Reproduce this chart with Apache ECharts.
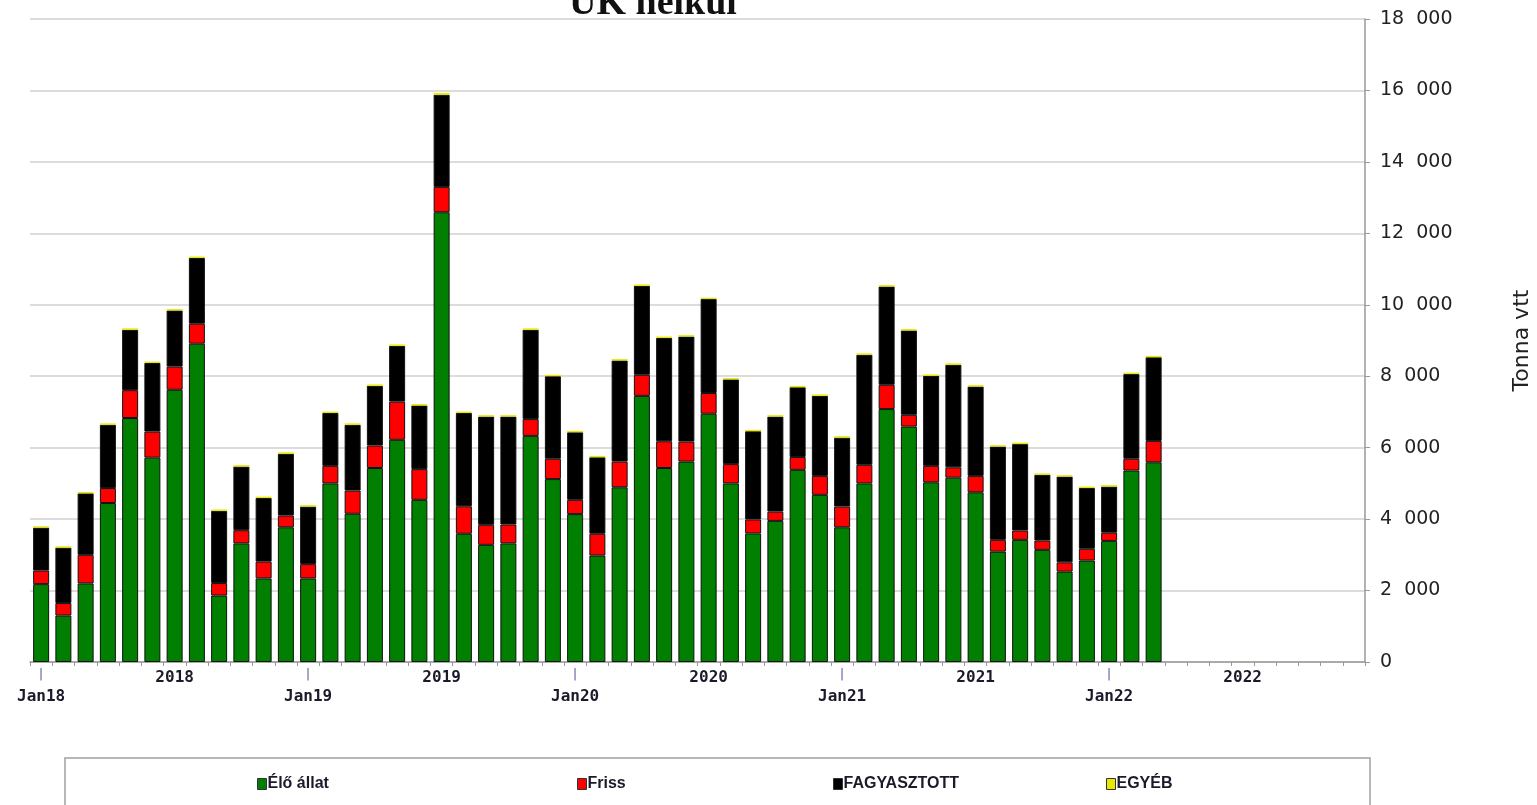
<!DOCTYPE html>
<html>
<head>
<meta charset="utf-8">
<title>UK nélkül</title>
<script src="https://cdn.jsdelivr.net/npm/echarts@6/dist/echarts.min.js"></script>
<style>
  html, body { margin: 0; padding: 0; background: #fff; }
  #chart { width: 1537px; height: 805px; }
</style>
</head>
<body>
<div id="chart"></div>
<script>
// havi kategóriák, 2018 jan - 2022 dec
var honapok = [
  'Jan18','Feb18','Mar18','Apr18','May18','Jun18','Jul18','Aug18','Sep18','Oct18','Nov18','Dec18',
  'Jan19','Feb19','Mar19','Apr19','May19','Jun19','Jul19','Aug19','Sep19','Oct19','Nov19','Dec19',
  'Jan20','Feb20','Mar20','Apr20','May20','Jun20','Jul20','Aug20','Sep20','Oct20','Nov20','Dec20',
  'Jan21','Feb21','Mar21','Apr21','May21','Jun21','Jul21','Aug21','Sep21','Oct21','Nov21','Dec21',
  'Jan22','Feb22','Mar22','Apr22','May22','Jun22','Jul22','Aug22','Sep22','Oct22','Nov22','Dec22'
];
var evek = ['2018', '2019', '2020', '2021', '2022'];

// tonna
var eloAllat = [2180, 1300, 2200, 4450, 6830, 5720, 7620, 8910, 1860, 3320, 2340, 3770,
  2340, 5000, 4150, 5430, 6220, 4540, 12590, 3590, 3280, 3320, 6330, 5120,
  4140, 2980, 4890, 7450, 5430, 5610, 6950, 5000, 3600, 3950, 5380, 4680,
  3770, 5000, 7080, 6590, 5030, 5160, 4750, 3090, 3420, 3140, 2530, 2840,
  3390, 5360, 5590];
var friss = [380, 350, 800, 420, 780, 730, 650, 560, 350, 370, 470, 330,
  400, 490, 650, 630, 1070, 860, 710, 770, 560, 530, 470, 570,
  400, 610, 720, 590, 750, 560, 580, 540, 390, 260, 360, 530,
  580, 520, 680, 330, 460, 290, 460, 330, 260, 260, 260, 330,
  230, 330, 600];
var fagyasztott = [1200, 1550, 1720, 1770, 1690, 1920, 1570, 1840, 2020, 1780, 1780, 1730,
  1610, 1480, 1840, 1670, 1560, 1780, 2580, 2610, 3030, 3020, 2500, 2310,
  1890, 2140, 2830, 2490, 2890, 2940, 2630, 2370, 2470, 2660, 1950, 2240,
  1930, 3080, 2750, 2360, 2520, 2870, 2500, 2610, 2420, 1840, 2400, 1700,
  1290, 2370, 2340];
var egyeb = [40, 40, 40, 40, 40, 40, 40, 40, 40, 40, 40, 40,
  40, 40, 40, 40, 40, 40, 50, 40, 40, 40, 40, 40,
  40, 40, 40, 40, 40, 40, 40, 40, 40, 40, 40, 40,
  40, 40, 40, 40, 40, 40, 40, 40, 40, 40, 40, 40,
  40, 40, 40];
var yTicks = [0, 2000, 4000, 6000, 8000, 10000, 12000, 14000, 16000, 18000];

var myChart = echarts.init(document.getElementById('chart'));

function oszlop(name, data, color, border) {
  return {
    name: name,
    type: 'bar',
    stack: 'ossz',
    barWidth: 16,
    data: data,
    itemStyle: { color: color, borderColor: '#111', borderWidth: border }
  };
}

var option = {
  backgroundColor: '#fff',
  animation: false,
  title: {
    text: 'UK nélkül',
    left: 564,
    top: -20,
    textStyle: { fontFamily: 'Liberation Serif', fontWeight: 'bold', fontSize: 38, color: '#111' }
  },
  graphic: [{
    type: 'rect',
    shape: { x: 65, y: 758, width: 1305, height: 70 },
    style: { fill: '#fff', stroke: '#a0a0a0', lineWidth: 1.5 },
    z: 0
  }],
  legend: [
    { data: ['Élő állat'], left: 257, top: 776 },
    { data: ['Friss'], left: 577, top: 776 },
    { data: ['FAGYASZTOTT'], left: 833, top: 776 },
    { data: ['EGYÉB'], left: 1106, top: 776 }
  ].map(function (l) {
    l.itemWidth = 9;
    l.itemHeight = 11;
    l.itemGap = 0;
    l.icon = 'rect';
    l.padding = 0;
    l.textStyle = { fontFamily: 'Liberation Sans', fontWeight: 'bold', fontSize: 16, color: '#1a1a2a', padding: [0, 0, 0, -4] };
    l.itemStyle = { borderColor: '#333', borderWidth: 1 };
    return l;
  }),
  grid: { left: 30, right: 172, top: 19, bottom: 143, outerBoundsMode: 'none' },
  xAxis: {
    type: 'category',
    data: honapok,
    axisLine: { lineStyle: { color: '#999', width: 1.5 } },
    axisTick: { show: true, interval: 0, length: 4, lineStyle: { color: '#999' } },
    axisLabel: {
      interval: 0,
      margin: 4,
      formatter: function (v, i) {
        if (i % 12 === 0) return '{jel|\u007c}\n{jan|' + v + '}';
        if (i % 12 === 6) return '{ev|' + evek[Math.floor(i / 12)] + '}';
        return '';
      },
      rich: {
        jel: { fontFamily: 'DejaVu Sans', fontSize: 12, color: '#50509a', height: 18, lineHeight: 18 },
        jan: { fontFamily: 'DejaVu Sans Mono', fontWeight: 'bold', fontSize: 16, color: '#1a1a2a', height: 26, lineHeight: 26 },
        ev: { fontFamily: 'DejaVu Sans Mono', fontWeight: 'bold', fontSize: 16, color: '#1a1a2a', height: 18, lineHeight: 18, padding: [6, 0, 0, 0] }
      }
    }
  },
  yAxis: {
    type: 'value',
    position: 'right',
    min: yTicks[0],
    max: yTicks[yTicks.length - 1],
    interval: 2000,
    name: 'Tonna vtt',
    nameLocation: 'middle',
    nameRotate: 90,
    nameGap: 146,
    nameTextStyle: { fontFamily: 'DejaVu Sans', fontSize: 22, color: '#222' },
    axisLine: { show: true, lineStyle: { color: '#999', width: 1.5 } },
    axisTick: { show: true, length: 5, lineStyle: { color: '#999' } },
    axisLabel: {
      margin: 15,
      fontFamily: 'DejaVu Sans',
      fontSize: 19,
      color: '#222',
      formatter: function (v) {
        var s = String(v);
        return s.length > 3 ? s.slice(0, -3) + '\u2007' + s.slice(-3) : s;
      }
    },
    splitLine: { lineStyle: { color: '#dcdcdc', width: 2 } }
  },
  series: [
    oszlop('Élő állat', eloAllat, '#007f00', 1),
    oszlop('Friss', friss, '#ff0000', 1),
    oszlop('FAGYASZTOTT', fagyasztott, '#000000', 1),
    oszlop('EGYÉB', egyeb, '#e8e800', 0)
  ]
};

myChart.setOption(option);
</script>
</body>
</html>
